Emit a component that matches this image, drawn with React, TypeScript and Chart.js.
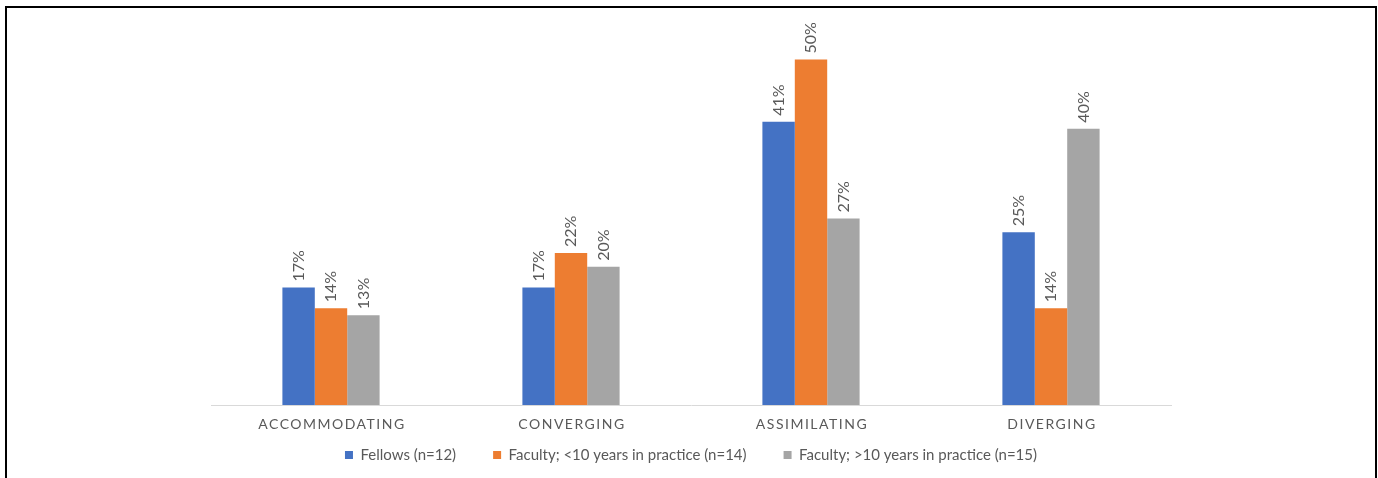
import React, { useEffect, useRef } from "react";
import { Chart, registerables } from "chart.js";

Chart.register(...registerables);

const categories = ["ACCOMMODATING", "CONVERGING", "ASSIMILATING", "DIVERGING"];
const seriesNames = [
  "Fellows (n=12)",
  "Faculty; <10 years in practice (n=14)",
  "Faculty; >10 years in practice (n=15)",
];
const fellows = [17, 17, 41, 25];
const facultyUnder10 = [14, 22, 50, 14];
const facultyOver10 = [13, 20, 27, 40];
const seriesColors = ["#4472C4", "#ED7D31", "#A5A5A5"];

const FONT = "Lato, 'Open Sans', sans-serif";
const TEXT = "#595959";

const valueLabels = {
  id: "valueLabels",
  afterDatasetsDraw(chart: any) {
    const ctx = chart.ctx;
    chart.data.datasets.forEach((ds: any, i: number) => {
      const meta = chart.getDatasetMeta(i);
      meta.data.forEach((bar: any, j: number) => {
        const { x, y } = bar.getProps(["x", "y"], true);
        ctx.save();
        ctx.translate(x, y - 6);
        ctx.rotate(-Math.PI / 2);
        ctx.font = `16px ${FONT}`;
        ctx.fillStyle = TEXT;
        ctx.textAlign = "left";
        ctx.textBaseline = "middle";
        ctx.fillText(`${ds.data[j]}%`, 0, 0);
        ctx.restore();
      });
    });
  },
};

const categoryLabels = {
  id: "categoryLabels",
  afterDraw(chart: any) {
    const ctx = chart.ctx;
    const xs = chart.scales.x;
    ctx.save();
    ctx.font = `14px ${FONT}`;
    ctx.fillStyle = TEXT;
    ctx.textAlign = "center";
    ctx.textBaseline = "middle";
    try {
      (ctx as any).letterSpacing = "1.5px";
    } catch (e) {}
    categories.forEach((c, i) => {
      ctx.fillText(c, xs.getPixelForValue(i) + 1, chart.chartArea.bottom + 19);
    });
    ctx.restore();
  },
};

export default function App() {
  const ref = useRef<HTMLCanvasElement | null>(null);
  useEffect(() => {
    document.body.style.margin = "0";
    document.body.style.overflow = "hidden";
    const chart = new Chart(ref.current!, {
      type: "bar",
      data: {
        labels: categories,
        datasets: [fellows, facultyUnder10, facultyOver10].map((d, i) => ({
          label: seriesNames[i],
          data: d,
          backgroundColor: seriesColors[i],
          borderWidth: 0,
          categoryPercentage: 0.405,
          barPercentage: 1,
        })),
      },
      options: {
        responsive: false,
        animation: false,
        devicePixelRatio: 1,
        layout: { padding: { left: 211, right: 207, top: 25, bottom: 5.5 } },
        scales: {
          x: {
            grid: { display: false, drawTicks: false, tickLength: 0 },
            ticks: { display: false },
            border: { display: true, color: "#D9D9D9", width: 1 },
          },
          y: { display: false, min: 0, max: 55 },
        },
        plugins: {
          legend: {
            position: "bottom",
            title: { display: true, text: "", padding: { top: 4.5, bottom: 0 }, font: { size: 1, lineHeight: 1 } },
            labels: {
              boxWidth: 8,
              boxHeight: 8,
              padding: 37,
              color: TEXT,
              font: { size: 15, family: FONT },
            },
          },
          tooltip: { enabled: false },
        },
      },
      plugins: [valueLabels, categoryLabels],
    });
    return () => chart.destroy();
  }, []);
  return (
    <div style={{ position: "relative", width: 1378, height: 478, overflow: "hidden", background: "#fff" }}>
      <canvas ref={ref} width={1378} height={478} style={{ position: "absolute", left: 0, top: 0 }} />
      <div
        style={{
          position: "absolute",
          left: 5,
          top: 6,
          width: 1372,
          height: 500,
          boxSizing: "border-box",
          borderTop: "2px solid #000",
          borderLeft: "2px solid #000",
          borderRight: "2px solid #000",
          pointerEvents: "none",
        }}
      />
    </div>
  );
}
